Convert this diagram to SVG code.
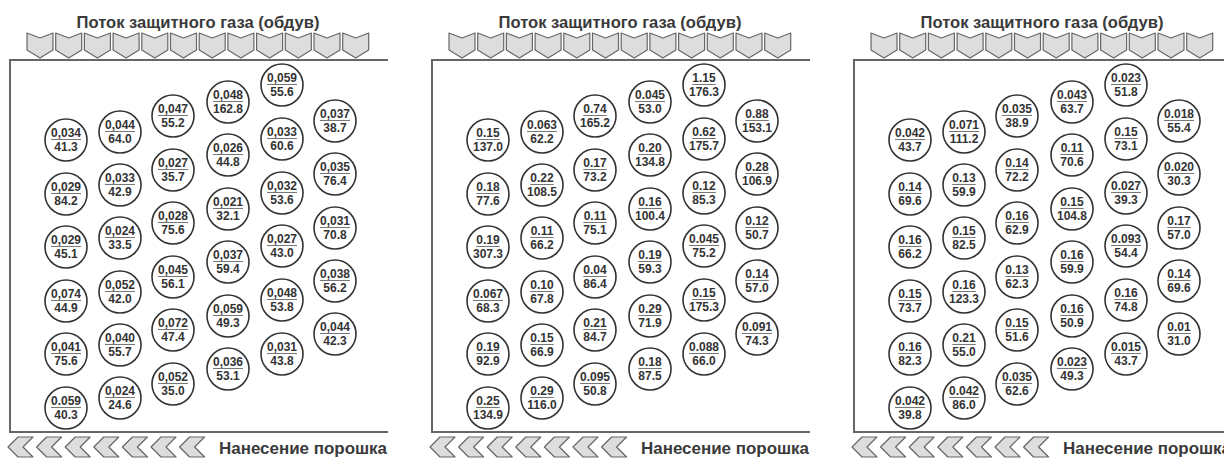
<svg xmlns="http://www.w3.org/2000/svg" width="1224" height="458" viewBox="0 0 1224 458">
<style>
.c{fill:#fff;stroke:#333;stroke-width:1.6}
.t{font-family:"Liberation Sans",Arial,sans-serif;font-weight:bold;font-size:12px;fill:#333;text-anchor:middle}
.u{stroke:#777;stroke-width:1}
.chev{fill:#ddd;stroke:#666;stroke-width:1.2;stroke-linejoin:round}
.box{fill:none;stroke:#666;stroke-width:2}
.lbl{font-family:"Liberation Sans",Arial,sans-serif;font-weight:bold;font-size:16px;fill:#3a3a3a}
</style>
<defs>
<clipPath id="pc"><rect x="0" y="0" width="388" height="458"/></clipPath>
<path id="dn" class="chev" d="M0,33 L13,38 L26,33 L26,50 L13,58 L0,50 Z"/>
<path id="lf" class="chev" d="M12,437 L27,437 L17,447 L27,457 L12,457 L2,447 Z"/>
<g id="frame">
<text class="lbl" x="198" y="28" text-anchor="middle" textLength="243" lengthAdjust="spacingAndGlyphs">Поток защитного газа (обдув)</text>
<use href="#dn" x="27"/><use href="#dn" x="55.7"/><use href="#dn" x="84.4"/><use href="#dn" x="113.1"/><use href="#dn" x="141.8"/><use href="#dn" x="170.5"/><use href="#dn" x="199.2"/><use href="#dn" x="227.9"/><use href="#dn" x="256.6"/><use href="#dn" x="285.3"/><use href="#dn" x="314"/><use href="#dn" x="342.7"/>
<rect class="box" x="10" y="60" width="420" height="372"/>
<use href="#lf" x="6"/><use href="#lf" x="34.6"/><use href="#lf" x="63.2"/><use href="#lf" x="91.8"/><use href="#lf" x="120.4"/><use href="#lf" x="149"/><use href="#lf" x="177.6"/>
<text class="lbl" x="219" y="454" textLength="168" lengthAdjust="spacingAndGlyphs">Нанесение порошка</text>
</g>
</defs>

<g id="panel1"><g clip-path="url(#pc)">
<use href="#frame"/>
<g id="p1-01" transform="translate(66,140)"><circle class="c" r="21"/><text class="t" y="-3">0,034</text><line class="u" x1="-15" x2="15" y1="-0.5" y2="-0.5"/><text class="t" y="11">41.3</text></g>
<g id="p1-02" transform="translate(66,194)"><circle class="c" r="21"/><text class="t" y="-3">0,029</text><line class="u" x1="-15" x2="15" y1="-0.5" y2="-0.5"/><text class="t" y="11">84.2</text></g>
<g id="p1-03" transform="translate(66,247)"><circle class="c" r="21"/><text class="t" y="-3">0,029</text><line class="u" x1="-15" x2="15" y1="-0.5" y2="-0.5"/><text class="t" y="11">45.1</text></g>
<g id="p1-04" transform="translate(66,301)"><circle class="c" r="21"/><text class="t" y="-3">0,074</text><line class="u" x1="-15" x2="15" y1="-0.5" y2="-0.5"/><text class="t" y="11">44.9</text></g>
<g id="p1-05" transform="translate(66,354)"><circle class="c" r="21"/><text class="t" y="-3">0,041</text><line class="u" x1="-15" x2="15" y1="-0.5" y2="-0.5"/><text class="t" y="11">75.6</text></g>
<g id="p1-06" transform="translate(66,408)"><circle class="c" r="21"/><text class="t" y="-3">0.059</text><line class="u" x1="-15" x2="15" y1="-0.5" y2="-0.5"/><text class="t" y="11">40.3</text></g>
<g id="p1-07" transform="translate(120,132)"><circle class="c" r="21"/><text class="t" y="-3">0,044</text><line class="u" x1="-15" x2="15" y1="-0.5" y2="-0.5"/><text class="t" y="11">64.0</text></g>
<g id="p1-08" transform="translate(120,185)"><circle class="c" r="21"/><text class="t" y="-3">0,033</text><line class="u" x1="-15" x2="15" y1="-0.5" y2="-0.5"/><text class="t" y="11">42.9</text></g>
<g id="p1-09" transform="translate(120,238)"><circle class="c" r="21"/><text class="t" y="-3">0,024</text><line class="u" x1="-15" x2="15" y1="-0.5" y2="-0.5"/><text class="t" y="11">33.5</text></g>
<g id="p1-10" transform="translate(120,292)"><circle class="c" r="21"/><text class="t" y="-3">0,052</text><line class="u" x1="-15" x2="15" y1="-0.5" y2="-0.5"/><text class="t" y="11">42.0</text></g>
<g id="p1-11" transform="translate(120,345)"><circle class="c" r="21"/><text class="t" y="-3">0,040</text><line class="u" x1="-15" x2="15" y1="-0.5" y2="-0.5"/><text class="t" y="11">55.7</text></g>
<g id="p1-12" transform="translate(120,398)"><circle class="c" r="21"/><text class="t" y="-3">0,024</text><line class="u" x1="-15" x2="15" y1="-0.5" y2="-0.5"/><text class="t" y="11">24.6</text></g>
<g id="p1-13" transform="translate(173,116)"><circle class="c" r="21"/><text class="t" y="-3">0,047</text><line class="u" x1="-15" x2="15" y1="-0.5" y2="-0.5"/><text class="t" y="11">55.2</text></g>
<g id="p1-14" transform="translate(173,170)"><circle class="c" r="21"/><text class="t" y="-3">0,027</text><line class="u" x1="-15" x2="15" y1="-0.5" y2="-0.5"/><text class="t" y="11">35.7</text></g>
<g id="p1-15" transform="translate(173,223)"><circle class="c" r="21"/><text class="t" y="-3">0,028</text><line class="u" x1="-15" x2="15" y1="-0.5" y2="-0.5"/><text class="t" y="11">75.6</text></g>
<g id="p1-16" transform="translate(173,277)"><circle class="c" r="21"/><text class="t" y="-3">0,045</text><line class="u" x1="-15" x2="15" y1="-0.5" y2="-0.5"/><text class="t" y="11">56.1</text></g>
<g id="p1-17" transform="translate(173,330)"><circle class="c" r="21"/><text class="t" y="-3">0,072</text><line class="u" x1="-15" x2="15" y1="-0.5" y2="-0.5"/><text class="t" y="11">47.4</text></g>
<g id="p1-18" transform="translate(173,384)"><circle class="c" r="21"/><text class="t" y="-3">0,052</text><line class="u" x1="-15" x2="15" y1="-0.5" y2="-0.5"/><text class="t" y="11">35.0</text></g>
<g id="p1-19" transform="translate(228,102)"><circle class="c" r="21"/><text class="t" y="-3">0,048</text><line class="u" x1="-15" x2="15" y1="-0.5" y2="-0.5"/><text class="t" y="11">162.8</text></g>
<g id="p1-20" transform="translate(228,155)"><circle class="c" r="21"/><text class="t" y="-3">0,026</text><line class="u" x1="-15" x2="15" y1="-0.5" y2="-0.5"/><text class="t" y="11">44.8</text></g>
<g id="p1-21" transform="translate(228,209)"><circle class="c" r="21"/><text class="t" y="-3">0,021</text><line class="u" x1="-15" x2="15" y1="-0.5" y2="-0.5"/><text class="t" y="11">32.1</text></g>
<g id="p1-22" transform="translate(228,262)"><circle class="c" r="21"/><text class="t" y="-3">0,037</text><line class="u" x1="-15" x2="15" y1="-0.5" y2="-0.5"/><text class="t" y="11">59.4</text></g>
<g id="p1-23" transform="translate(228,316)"><circle class="c" r="21"/><text class="t" y="-3">0,059</text><line class="u" x1="-15" x2="15" y1="-0.5" y2="-0.5"/><text class="t" y="11">49.3</text></g>
<g id="p1-24" transform="translate(228,369)"><circle class="c" r="21"/><text class="t" y="-3">0,036</text><line class="u" x1="-15" x2="15" y1="-0.5" y2="-0.5"/><text class="t" y="11">53.1</text></g>
<g id="p1-25" transform="translate(282,85)"><circle class="c" r="21"/><text class="t" y="-3">0,059</text><line class="u" x1="-15" x2="15" y1="-0.5" y2="-0.5"/><text class="t" y="11">55.6</text></g>
<g id="p1-26" transform="translate(282,139)"><circle class="c" r="21"/><text class="t" y="-3">0,033</text><line class="u" x1="-15" x2="15" y1="-0.5" y2="-0.5"/><text class="t" y="11">60.6</text></g>
<g id="p1-27" transform="translate(282,193)"><circle class="c" r="21"/><text class="t" y="-3">0,032</text><line class="u" x1="-15" x2="15" y1="-0.5" y2="-0.5"/><text class="t" y="11">53.6</text></g>
<g id="p1-28" transform="translate(282,246)"><circle class="c" r="21"/><text class="t" y="-3">0,027</text><line class="u" x1="-15" x2="15" y1="-0.5" y2="-0.5"/><text class="t" y="11">43.0</text></g>
<g id="p1-29" transform="translate(282,300)"><circle class="c" r="21"/><text class="t" y="-3">0,048</text><line class="u" x1="-15" x2="15" y1="-0.5" y2="-0.5"/><text class="t" y="11">53.8</text></g>
<g id="p1-30" transform="translate(282,354)"><circle class="c" r="21"/><text class="t" y="-3">0,031</text><line class="u" x1="-15" x2="15" y1="-0.5" y2="-0.5"/><text class="t" y="11">43.8</text></g>
<g id="p1-31" transform="translate(335,121)"><circle class="c" r="21"/><text class="t" y="-3">0,037</text><line class="u" x1="-15" x2="15" y1="-0.5" y2="-0.5"/><text class="t" y="11">38.7</text></g>
<g id="p1-32" transform="translate(335,174)"><circle class="c" r="21"/><text class="t" y="-3">0,035</text><line class="u" x1="-15" x2="15" y1="-0.5" y2="-0.5"/><text class="t" y="11">76.4</text></g>
<g id="p1-33" transform="translate(335,228)"><circle class="c" r="21"/><text class="t" y="-3">0,031</text><line class="u" x1="-15" x2="15" y1="-0.5" y2="-0.5"/><text class="t" y="11">70.8</text></g>
<g id="p1-34" transform="translate(335,281)"><circle class="c" r="21"/><text class="t" y="-3">0,038</text><line class="u" x1="-15" x2="15" y1="-0.5" y2="-0.5"/><text class="t" y="11">56.2</text></g>
<g id="p1-35" transform="translate(335,334)"><circle class="c" r="21"/><text class="t" y="-3">0,044</text><line class="u" x1="-15" x2="15" y1="-0.5" y2="-0.5"/><text class="t" y="11">42.3</text></g>
</g></g>

<g id="panel2" transform="translate(422,0)"><g clip-path="url(#pc)">
<use href="#frame"/>
<g id="p2-01" transform="translate(66,140)"><circle class="c" r="21"/><text class="t" y="-3">0.15</text><line class="u" x1="-11.7" x2="11.7" y1="-0.5" y2="-0.5"/><text class="t" y="11">137.0</text></g>
<g id="p2-02" transform="translate(66,194)"><circle class="c" r="21"/><text class="t" y="-3">0.18</text><line class="u" x1="-11.7" x2="11.7" y1="-0.5" y2="-0.5"/><text class="t" y="11">77.6</text></g>
<g id="p2-03" transform="translate(66,247)"><circle class="c" r="21"/><text class="t" y="-3">0.19</text><line class="u" x1="-11.7" x2="11.7" y1="-0.5" y2="-0.5"/><text class="t" y="11">307.3</text></g>
<g id="p2-04" transform="translate(66,301)"><circle class="c" r="21"/><text class="t" y="-3">0.067</text><line class="u" x1="-15" x2="15" y1="-0.5" y2="-0.5"/><text class="t" y="11">68.3</text></g>
<g id="p2-05" transform="translate(66,354)"><circle class="c" r="21"/><text class="t" y="-3">0.19</text><line class="u" x1="-11.7" x2="11.7" y1="-0.5" y2="-0.5"/><text class="t" y="11">92.9</text></g>
<g id="p2-06" transform="translate(66,408)"><circle class="c" r="21"/><text class="t" y="-3">0.25</text><line class="u" x1="-11.7" x2="11.7" y1="-0.5" y2="-0.5"/><text class="t" y="11">134.9</text></g>
<g id="p2-07" transform="translate(120,132)"><circle class="c" r="21"/><text class="t" y="-3">0.063</text><line class="u" x1="-15" x2="15" y1="-0.5" y2="-0.5"/><text class="t" y="11">62.2</text></g>
<g id="p2-08" transform="translate(120,185)"><circle class="c" r="21"/><text class="t" y="-3">0.22</text><line class="u" x1="-11.7" x2="11.7" y1="-0.5" y2="-0.5"/><text class="t" y="11">108.5</text></g>
<g id="p2-09" transform="translate(120,238)"><circle class="c" r="21"/><text class="t" y="-3">0.11</text><line class="u" x1="-11.7" x2="11.7" y1="-0.5" y2="-0.5"/><text class="t" y="11">66.2</text></g>
<g id="p2-10" transform="translate(120,292)"><circle class="c" r="21"/><text class="t" y="-3">0.10</text><line class="u" x1="-11.7" x2="11.7" y1="-0.5" y2="-0.5"/><text class="t" y="11">67.8</text></g>
<g id="p2-11" transform="translate(120,345)"><circle class="c" r="21"/><text class="t" y="-3">0.15</text><line class="u" x1="-11.7" x2="11.7" y1="-0.5" y2="-0.5"/><text class="t" y="11">66.9</text></g>
<g id="p2-12" transform="translate(120,398)"><circle class="c" r="21"/><text class="t" y="-3">0.29</text><line class="u" x1="-11.7" x2="11.7" y1="-0.5" y2="-0.5"/><text class="t" y="11">116.0</text></g>
<g id="p2-13" transform="translate(173,116)"><circle class="c" r="21"/><text class="t" y="-3">0.74</text><line class="u" x1="-11.7" x2="11.7" y1="-0.5" y2="-0.5"/><text class="t" y="11">165.2</text></g>
<g id="p2-14" transform="translate(173,170)"><circle class="c" r="21"/><text class="t" y="-3">0.17</text><line class="u" x1="-11.7" x2="11.7" y1="-0.5" y2="-0.5"/><text class="t" y="11">73.2</text></g>
<g id="p2-15" transform="translate(173,223)"><circle class="c" r="21"/><text class="t" y="-3">0.11</text><line class="u" x1="-11.7" x2="11.7" y1="-0.5" y2="-0.5"/><text class="t" y="11">75.1</text></g>
<g id="p2-16" transform="translate(173,277)"><circle class="c" r="21"/><text class="t" y="-3">0.04</text><line class="u" x1="-11.7" x2="11.7" y1="-0.5" y2="-0.5"/><text class="t" y="11">86.4</text></g>
<g id="p2-17" transform="translate(173,330)"><circle class="c" r="21"/><text class="t" y="-3">0.21</text><line class="u" x1="-11.7" x2="11.7" y1="-0.5" y2="-0.5"/><text class="t" y="11">84.7</text></g>
<g id="p2-18" transform="translate(173,384)"><circle class="c" r="21"/><text class="t" y="-3">0.095</text><line class="u" x1="-15" x2="15" y1="-0.5" y2="-0.5"/><text class="t" y="11">50.8</text></g>
<g id="p2-19" transform="translate(228,102)"><circle class="c" r="21"/><text class="t" y="-3">0.045</text><line class="u" x1="-15" x2="15" y1="-0.5" y2="-0.5"/><text class="t" y="11">53.0</text></g>
<g id="p2-20" transform="translate(228,155)"><circle class="c" r="21"/><text class="t" y="-3">0.20</text><line class="u" x1="-11.7" x2="11.7" y1="-0.5" y2="-0.5"/><text class="t" y="11">134.8</text></g>
<g id="p2-21" transform="translate(228,209)"><circle class="c" r="21"/><text class="t" y="-3">0.16</text><line class="u" x1="-11.7" x2="11.7" y1="-0.5" y2="-0.5"/><text class="t" y="11">100.4</text></g>
<g id="p2-22" transform="translate(228,262)"><circle class="c" r="21"/><text class="t" y="-3">0.19</text><line class="u" x1="-11.7" x2="11.7" y1="-0.5" y2="-0.5"/><text class="t" y="11">59.3</text></g>
<g id="p2-23" transform="translate(228,316)"><circle class="c" r="21"/><text class="t" y="-3">0.29</text><line class="u" x1="-11.7" x2="11.7" y1="-0.5" y2="-0.5"/><text class="t" y="11">71.9</text></g>
<g id="p2-24" transform="translate(228,369)"><circle class="c" r="21"/><text class="t" y="-3">0.18</text><line class="u" x1="-11.7" x2="11.7" y1="-0.5" y2="-0.5"/><text class="t" y="11">87.5</text></g>
<g id="p2-25" transform="translate(282,85)"><circle class="c" r="21"/><text class="t" y="-3">1.15</text><line class="u" x1="-11.7" x2="11.7" y1="-0.5" y2="-0.5"/><text class="t" y="11">176.3</text></g>
<g id="p2-26" transform="translate(282,139)"><circle class="c" r="21"/><text class="t" y="-3">0.62</text><line class="u" x1="-11.7" x2="11.7" y1="-0.5" y2="-0.5"/><text class="t" y="11">175.7</text></g>
<g id="p2-27" transform="translate(282,193)"><circle class="c" r="21"/><text class="t" y="-3">0.12</text><line class="u" x1="-11.7" x2="11.7" y1="-0.5" y2="-0.5"/><text class="t" y="11">85.3</text></g>
<g id="p2-28" transform="translate(282,246)"><circle class="c" r="21"/><text class="t" y="-3">0.045</text><line class="u" x1="-15" x2="15" y1="-0.5" y2="-0.5"/><text class="t" y="11">75.2</text></g>
<g id="p2-29" transform="translate(282,300)"><circle class="c" r="21"/><text class="t" y="-3">0.15</text><line class="u" x1="-11.7" x2="11.7" y1="-0.5" y2="-0.5"/><text class="t" y="11">175.3</text></g>
<g id="p2-30" transform="translate(282,354)"><circle class="c" r="21"/><text class="t" y="-3">0.088</text><line class="u" x1="-15" x2="15" y1="-0.5" y2="-0.5"/><text class="t" y="11">66.0</text></g>
<g id="p2-31" transform="translate(335,121)"><circle class="c" r="21"/><text class="t" y="-3">0.88</text><line class="u" x1="-11.7" x2="11.7" y1="-0.5" y2="-0.5"/><text class="t" y="11">153.1</text></g>
<g id="p2-32" transform="translate(335,174)"><circle class="c" r="21"/><text class="t" y="-3">0.28</text><line class="u" x1="-11.7" x2="11.7" y1="-0.5" y2="-0.5"/><text class="t" y="11">106.9</text></g>
<g id="p2-33" transform="translate(335,228)"><circle class="c" r="21"/><text class="t" y="-3">0.12</text><line class="u" x1="-11.7" x2="11.7" y1="-0.5" y2="-0.5"/><text class="t" y="11">50.7</text></g>
<g id="p2-34" transform="translate(335,281)"><circle class="c" r="21"/><text class="t" y="-3">0.14</text><line class="u" x1="-11.7" x2="11.7" y1="-0.5" y2="-0.5"/><text class="t" y="11">57.0</text></g>
<g id="p2-35" transform="translate(335,334)"><circle class="c" r="21"/><text class="t" y="-3">0.091</text><line class="u" x1="-15" x2="15" y1="-0.5" y2="-0.5"/><text class="t" y="11">74.3</text></g>
</g></g>

<g id="panel3" transform="translate(844,0)"><g clip-path="url(#pc)">
<use href="#frame"/>
<g id="p3-01" transform="translate(66,140)"><circle class="c" r="21"/><text class="t" y="-3">0.042</text><line class="u" x1="-15" x2="15" y1="-0.5" y2="-0.5"/><text class="t" y="11">43.7</text></g>
<g id="p3-02" transform="translate(66,194)"><circle class="c" r="21"/><text class="t" y="-3">0.14</text><line class="u" x1="-11.7" x2="11.7" y1="-0.5" y2="-0.5"/><text class="t" y="11">69.6</text></g>
<g id="p3-03" transform="translate(66,247)"><circle class="c" r="21"/><text class="t" y="-3">0.16</text><line class="u" x1="-11.7" x2="11.7" y1="-0.5" y2="-0.5"/><text class="t" y="11">66.2</text></g>
<g id="p3-04" transform="translate(66,301)"><circle class="c" r="21"/><text class="t" y="-3">0.15</text><line class="u" x1="-11.7" x2="11.7" y1="-0.5" y2="-0.5"/><text class="t" y="11">73.7</text></g>
<g id="p3-05" transform="translate(66,354)"><circle class="c" r="21"/><text class="t" y="-3">0.16</text><line class="u" x1="-11.7" x2="11.7" y1="-0.5" y2="-0.5"/><text class="t" y="11">82.3</text></g>
<g id="p3-06" transform="translate(66,408)"><circle class="c" r="21"/><text class="t" y="-3">0.042</text><line class="u" x1="-15" x2="15" y1="-0.5" y2="-0.5"/><text class="t" y="11">39.8</text></g>
<g id="p3-07" transform="translate(120,132)"><circle class="c" r="21"/><text class="t" y="-3">0.071</text><line class="u" x1="-15" x2="15" y1="-0.5" y2="-0.5"/><text class="t" y="11">111.2</text></g>
<g id="p3-08" transform="translate(120,185)"><circle class="c" r="21"/><text class="t" y="-3">0.13</text><line class="u" x1="-11.7" x2="11.7" y1="-0.5" y2="-0.5"/><text class="t" y="11">59.9</text></g>
<g id="p3-09" transform="translate(120,238)"><circle class="c" r="21"/><text class="t" y="-3">0.15</text><line class="u" x1="-11.7" x2="11.7" y1="-0.5" y2="-0.5"/><text class="t" y="11">82.5</text></g>
<g id="p3-10" transform="translate(120,292)"><circle class="c" r="21"/><text class="t" y="-3">0.16</text><line class="u" x1="-11.7" x2="11.7" y1="-0.5" y2="-0.5"/><text class="t" y="11">123.3</text></g>
<g id="p3-11" transform="translate(120,345)"><circle class="c" r="21"/><text class="t" y="-3">0.21</text><line class="u" x1="-11.7" x2="11.7" y1="-0.5" y2="-0.5"/><text class="t" y="11">55.0</text></g>
<g id="p3-12" transform="translate(120,398)"><circle class="c" r="21"/><text class="t" y="-3">0.042</text><line class="u" x1="-15" x2="15" y1="-0.5" y2="-0.5"/><text class="t" y="11">86.0</text></g>
<g id="p3-13" transform="translate(173,116)"><circle class="c" r="21"/><text class="t" y="-3">0.035</text><line class="u" x1="-15" x2="15" y1="-0.5" y2="-0.5"/><text class="t" y="11">38.9</text></g>
<g id="p3-14" transform="translate(173,170)"><circle class="c" r="21"/><text class="t" y="-3">0.14</text><line class="u" x1="-11.7" x2="11.7" y1="-0.5" y2="-0.5"/><text class="t" y="11">72.2</text></g>
<g id="p3-15" transform="translate(173,223)"><circle class="c" r="21"/><text class="t" y="-3">0.16</text><line class="u" x1="-11.7" x2="11.7" y1="-0.5" y2="-0.5"/><text class="t" y="11">62.9</text></g>
<g id="p3-16" transform="translate(173,277)"><circle class="c" r="21"/><text class="t" y="-3">0.13</text><line class="u" x1="-11.7" x2="11.7" y1="-0.5" y2="-0.5"/><text class="t" y="11">62.3</text></g>
<g id="p3-17" transform="translate(173,330)"><circle class="c" r="21"/><text class="t" y="-3">0.15</text><line class="u" x1="-11.7" x2="11.7" y1="-0.5" y2="-0.5"/><text class="t" y="11">51.6</text></g>
<g id="p3-18" transform="translate(173,384)"><circle class="c" r="21"/><text class="t" y="-3">0.035</text><line class="u" x1="-15" x2="15" y1="-0.5" y2="-0.5"/><text class="t" y="11">62.6</text></g>
<g id="p3-19" transform="translate(228,102)"><circle class="c" r="21"/><text class="t" y="-3">0.043</text><line class="u" x1="-15" x2="15" y1="-0.5" y2="-0.5"/><text class="t" y="11">63.7</text></g>
<g id="p3-20" transform="translate(228,155)"><circle class="c" r="21"/><text class="t" y="-3">0.11</text><line class="u" x1="-11.7" x2="11.7" y1="-0.5" y2="-0.5"/><text class="t" y="11">70.6</text></g>
<g id="p3-21" transform="translate(228,209)"><circle class="c" r="21"/><text class="t" y="-3">0.15</text><line class="u" x1="-11.7" x2="11.7" y1="-0.5" y2="-0.5"/><text class="t" y="11">104.8</text></g>
<g id="p3-22" transform="translate(228,262)"><circle class="c" r="21"/><text class="t" y="-3">0.16</text><line class="u" x1="-11.7" x2="11.7" y1="-0.5" y2="-0.5"/><text class="t" y="11">59.9</text></g>
<g id="p3-23" transform="translate(228,316)"><circle class="c" r="21"/><text class="t" y="-3">0.16</text><line class="u" x1="-11.7" x2="11.7" y1="-0.5" y2="-0.5"/><text class="t" y="11">50.9</text></g>
<g id="p3-24" transform="translate(228,369)"><circle class="c" r="21"/><text class="t" y="-3">0.023</text><line class="u" x1="-15" x2="15" y1="-0.5" y2="-0.5"/><text class="t" y="11">49.3</text></g>
<g id="p3-25" transform="translate(282,85)"><circle class="c" r="21"/><text class="t" y="-3">0.023</text><line class="u" x1="-15" x2="15" y1="-0.5" y2="-0.5"/><text class="t" y="11">51.8</text></g>
<g id="p3-26" transform="translate(282,139)"><circle class="c" r="21"/><text class="t" y="-3">0.15</text><line class="u" x1="-11.7" x2="11.7" y1="-0.5" y2="-0.5"/><text class="t" y="11">73.1</text></g>
<g id="p3-27" transform="translate(282,193)"><circle class="c" r="21"/><text class="t" y="-3">0.027</text><line class="u" x1="-15" x2="15" y1="-0.5" y2="-0.5"/><text class="t" y="11">39.3</text></g>
<g id="p3-28" transform="translate(282,246)"><circle class="c" r="21"/><text class="t" y="-3">0.093</text><line class="u" x1="-15" x2="15" y1="-0.5" y2="-0.5"/><text class="t" y="11">54.4</text></g>
<g id="p3-29" transform="translate(282,300)"><circle class="c" r="21"/><text class="t" y="-3">0.16</text><line class="u" x1="-11.7" x2="11.7" y1="-0.5" y2="-0.5"/><text class="t" y="11">74.8</text></g>
<g id="p3-30" transform="translate(282,354)"><circle class="c" r="21"/><text class="t" y="-3">0.015</text><line class="u" x1="-15" x2="15" y1="-0.5" y2="-0.5"/><text class="t" y="11">43.7</text></g>
<g id="p3-31" transform="translate(335,121)"><circle class="c" r="21"/><text class="t" y="-3">0.018</text><line class="u" x1="-15" x2="15" y1="-0.5" y2="-0.5"/><text class="t" y="11">55.4</text></g>
<g id="p3-32" transform="translate(335,174)"><circle class="c" r="21"/><text class="t" y="-3">0.020</text><line class="u" x1="-15" x2="15" y1="-0.5" y2="-0.5"/><text class="t" y="11">30.3</text></g>
<g id="p3-33" transform="translate(335,228)"><circle class="c" r="21"/><text class="t" y="-3">0.17</text><line class="u" x1="-11.7" x2="11.7" y1="-0.5" y2="-0.5"/><text class="t" y="11">57.0</text></g>
<g id="p3-34" transform="translate(335,281)"><circle class="c" r="21"/><text class="t" y="-3">0.14</text><line class="u" x1="-11.7" x2="11.7" y1="-0.5" y2="-0.5"/><text class="t" y="11">69.6</text></g>
<g id="p3-35" transform="translate(335,334)"><circle class="c" r="21"/><text class="t" y="-3">0.01</text><line class="u" x1="-11.7" x2="11.7" y1="-0.5" y2="-0.5"/><text class="t" y="11">31.0</text></g>
</g></g>
<g id="connectors"/>
</svg>
